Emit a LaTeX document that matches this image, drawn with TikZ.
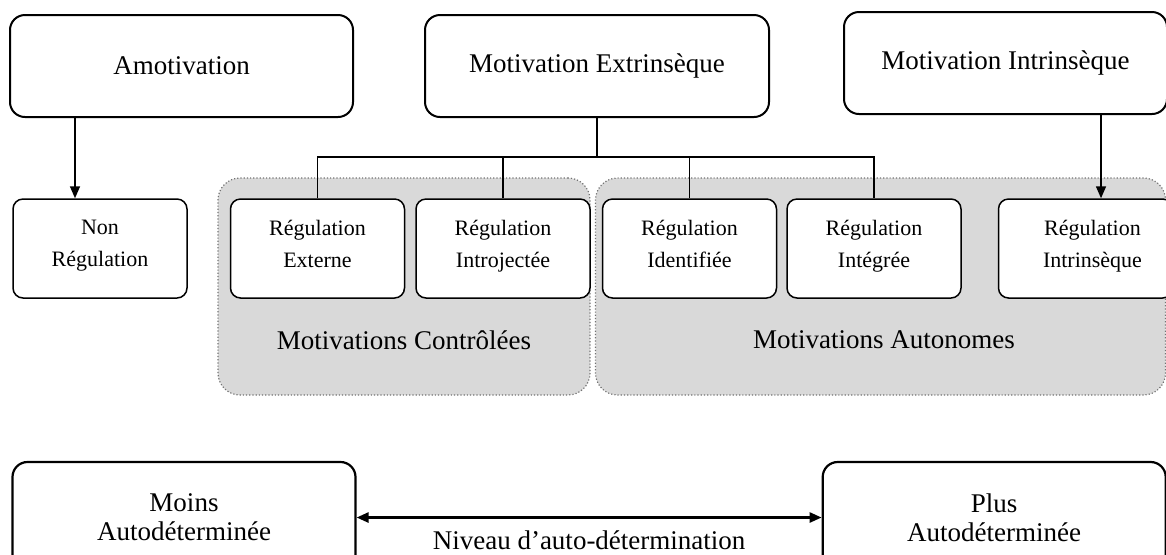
\documentclass[tikz,border=0pt]{standalone}
\usepackage{fontspec}
\setmainfont{Liberation Serif}
\usetikzlibrary{positioning,arrows.meta,calc}

\begin{document}
\begin{tikzpicture}[x=0.5pt, y=-0.5pt,
  topbox/.style={draw, line width=1pt, rounded corners=7.5pt, fill=white,
                 minimum height=51pt, inner sep=0pt, align=center,
                 font=\fontsize{13.5}{16}\selectfont},
  regbox/.style={draw, line width=0.75pt, rounded corners=5pt, fill=white,
                 minimum width=87pt, minimum height=49.5pt, inner sep=0pt,
                 align=center, font=\fontsize{11}{16}\selectfont,
                 execute at begin node=\strut, execute at end node=\strut},
  endbox/.style={draw, line width=1.1pt, rounded corners=7.5pt, fill=white,
                 minimum width=171.5pt, minimum height=55.5pt, inner sep=0pt,
                 align=center, font=\fontsize{13.5}{14.5}\selectfont},
  grp/.style={draw=black!55, densely dotted, line width=0.6pt, fill=black!15,
              rounded corners=11pt, inner sep=0pt},
  grplbl/.style={font=\fontsize{13.5}{16}\selectfont},
  link/.style={line width=0.75pt},
  arr/.style={line width=0.8pt, -{Triangle[length=6pt, width=5pt]}},
  dblarr/.style={line width=1.3pt, {Triangle[length=6pt, width=5pt]}-{Triangle[length=6pt, width=5pt]}},
]
  \useasboundingbox (0,0) rectangle (1166,554);
  \clip (0,0) rectangle (1166,554);

  % Grey groups (drawn first, behind the boxes)
  \node[grp, minimum width=186pt, minimum height=108.5pt] (ctrlgrp) at (404,286.5) {};
  \node[grp, minimum width=285pt, minimum height=108.5pt] (autogrp) at (880.5,286.5) {};
  \node[grplbl] (ctrllbl) at (404,340) {Motivations Contrôlées};
  \node[grplbl] (autolbl) at (884,340) {Motivations Autonomes};

  % Top row
  \node[topbox, minimum width=171.5pt]                  (amot) at (181.5,66) {Amotivation};
  \node[topbox, minimum width=172pt, right=35pt of amot] (extr) {Motivation Extrinsèque};
  \node[topbox, minimum width=161.5pt, right=36.5pt of extr, yshift=1.5pt] (intr) {Motivation Intrinsèque};

  % Row of regulation boxes
  \node[regbox]                      (nonreg)  at (100,248.5) {Non\\Régulation};
  \node[regbox, right=21pt of nonreg] (ext)     {Régulation\\Externe};
  \node[regbox, right=5pt of ext]    (intro)   {Régulation\\Introjectée};
  \node[regbox, right=5.5pt of intro] (ident)  {Régulation\\Identifiée};
  \node[regbox, right=4.5pt of ident] (integ)  {Régulation\\Intégrée};
  \node[regbox, right=18pt of integ] (intrreg) {\hspace*{7pt}Régulation\\\hspace*{7pt}Intrinsèque};

  % Tree under the extrinsic box
  \draw[link] (extr.south) -- ++(0,39) coordinate (bus);
  \draw[link] (ext.north) |- (bus) -| (integ.north);
  \draw[link] (intro.north) -- (intro.north |- bus);
  \draw[link] (ident.north) -- (ident.north |- bus);

  % Single arrows
  \draw[arr] ([xshift=-12.5pt]nonreg.north |- amot.south) -- ([xshift=-12.5pt]nonreg.north);
  \draw[arr] ([xshift=7.75pt]intrreg.north |- intr.south) -- ([xshift=7.75pt]intrreg.north);

  % Bottom scale
  \node[endbox]                       (moins) at (184,517.5) {Moins\\Autodéterminée};
  \node[endbox, right=232.5pt of moins] (plus) {Plus\\Autodéterminée};
  \draw[dblarr] (moins) -- (plus)
    node[midway, yshift=-11.25pt, font=\fontsize{13.5}{16}\selectfont] {Niveau d’auto-détermination};
\end{tikzpicture}
\end{document}
